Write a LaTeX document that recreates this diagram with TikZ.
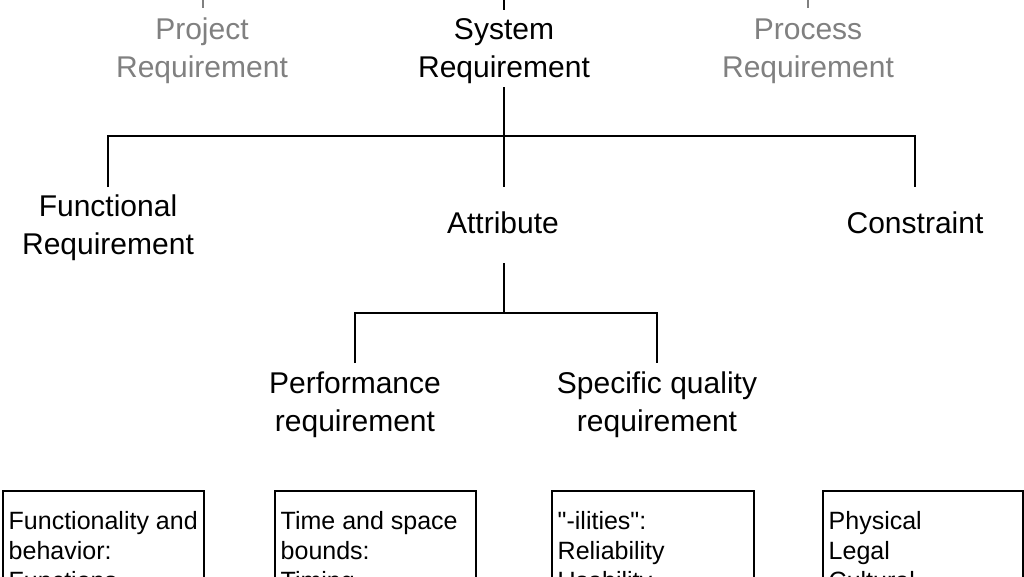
\documentclass[tikz,border=0pt]{standalone}
\usepackage{fontspec}
\setmainfont{Liberation Sans}
\newfontfamily\plainq{Liberation Sans}
\definecolor{txtgray}{RGB}{128,128,128}
\begin{document}
\begin{tikzpicture}[x=1pt,y=-1pt,
  lbl/.style={font=\fontsize{30}{38}\selectfont, align=center, inner sep=0pt},
  greylbl/.style={lbl, text=txtgray},
  conn/.style={line width=2.6pt, line join=miter},
  graystub/.style={line width=1.6pt, draw=txtgray},
  boxst/.style={draw, line width=2pt, rectangle, inner sep=0pt, anchor=north west},
  boxtxt/.style={font=\fontsize{25}{30}\selectfont, align=left, inner sep=0pt, anchor=north west}]
\useasboundingbox (0,0) rectangle (1024,576);
\clip (0,0) rectangle (1024,576);
\fill[white] (0,0) rectangle (1024,576);

% top labels
\node[greylbl] (proj) at (202,51) {Project\\Requirement};
\node[lbl] (sys) at (504,51) {System\\Requirement};
\node[greylbl] (proc) at (808,51) {Process\\Requirement};

% stubs to off-picture parents
\coordinate (projup) at (203,-30); \coordinate (projst) at (203,8);
\coordinate (procup) at (808,-30); \coordinate (procst) at (808,8);
\coordinate (sysup) at (504,-30); \coordinate (sysst) at (504,10);
\draw[graystub] (projup) -- (projst);
\draw[graystub] (procup) -- (procst);
\draw[conn] (sysup) -- (sysst);

% second level
\node[lbl] (func) at (108,228) {Functional\\Requirement};
\node[lbl] (attr) at (503,223) {Attribute};
\node[lbl] (cons) at (915,223) {Constraint};

\coordinate (s0) at (504,87);
\coordinate (j1) at (504,136);
\coordinate (f1) at (108,187);
\coordinate (a1) at (504,187);
\coordinate (c1) at (915,187);
\draw[conn] (f1) |- (c1 |- j1) -- (c1);
\draw[conn] (s0) -- (a1);

% third level
\node[lbl] (perf) at (355,405) {Performance\\requirement};
\node[lbl] (spec) at (657,405) {Specific quality\\requirement};

\coordinate (a2) at (504,263);
\coordinate (j2) at (504,313);
\coordinate (p1) at (355,363);
\coordinate (q1) at (657,363);
\draw[conn] (p1) |- (q1 |- j2) -- (q1);
\draw[conn] (a2) -- (j2);

% bottom boxes
\node[boxst, minimum width=201pt, minimum height=220pt] (b1) at (2,490) {};
\node[boxst, minimum width=201pt, minimum height=220pt] (b2) at (274,490) {};
\node[boxst, minimum width=202pt, minimum height=220pt] (b3) at (551,490) {};
\node[boxst, minimum width=200pt, minimum height=220pt] (b4) at (822,490) {};

\node[boxtxt] (t1) at ([xshift=6.5pt,yshift=-21pt]b1.north west) {Functionality and\\behavior:\\Functions};
\node[boxtxt] (t2) at ([xshift=6.5pt,yshift=-21pt]b2.north west) {Time and space\\bounds:\\Timing};
\node[boxtxt] (t3) at ([xshift=6.5pt,yshift=-21pt]b3.north west) {{\plainq"-ilities":}\\Reliability\\Usability};
\node[boxtxt] (t4) at ([xshift=6.5pt,yshift=-21pt]b4.north west) {Physical\\Legal\\Cultural};
\end{tikzpicture}
\end{document}
